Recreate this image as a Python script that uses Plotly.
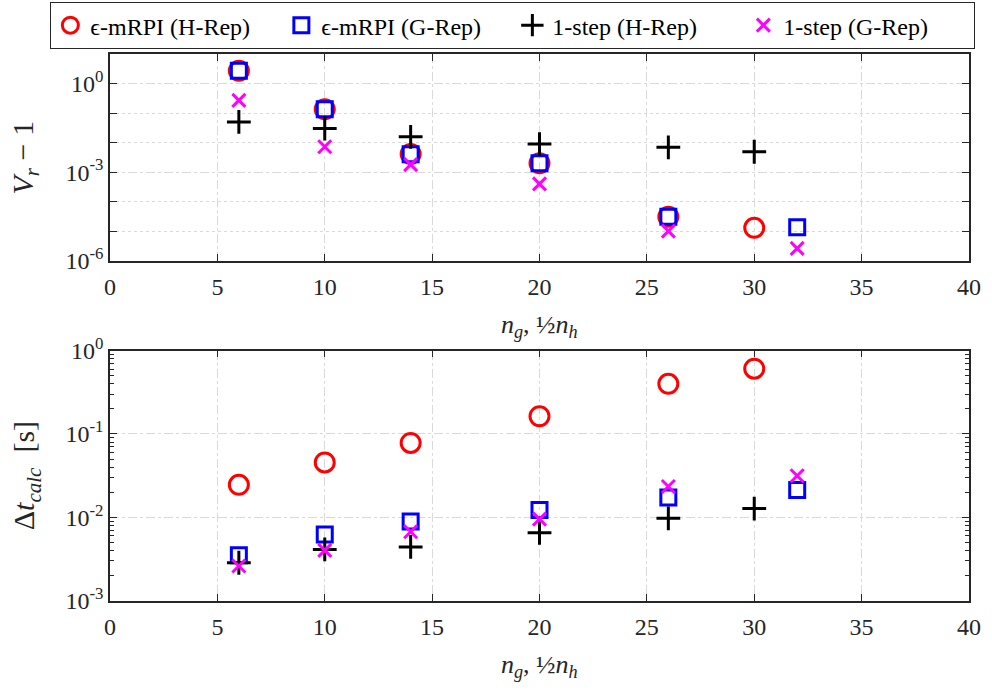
import plotly.graph_objects as go

# ---------------- data ----------------
x_h = [6, 10, 14, 20, 26, 30]          # H-Rep sizes
x_g = [6, 10, 14, 20, 26, 32]          # G-Rep sizes

vr_mrpi_h = [2.7, 0.135, 0.0041, 0.0020, 3.1e-5, 1.3e-5]
vr_mrpi_g = [2.7, 0.135, 0.0040, 0.0020, 3.1e-5, 1.35e-5]
vr_1step_h = [0.050, 0.030, 0.0157, 0.0089, 0.0069, 0.0049]
vr_1step_g = [0.27, 0.0072, 0.0018, 0.0004, 1.0e-5, 2.6e-6]

t_mrpi_h = [0.0245, 0.0455, 0.078, 0.163, 0.40, 0.607]
t_mrpi_g = [0.0035, 0.0062, 0.00886, 0.0122, 0.0172, 0.0213]
t_1step_h = [0.00284, 0.0041, 0.0044, 0.0065, 0.0097, 0.0127]
t_1step_g = [0.0026, 0.0040, 0.0067, 0.0095, 0.0234, 0.0315]

names = ["ϵ-mRPI (H-Rep)", "ϵ-mRPI (G-Rep)", "1-step (H-Rep)", "1-step (G-Rep)"]
x_ticks = [0, 5, 10, 15, 20, 25, 30, 35, 40]
top_major = [1e-6, 1e-3, 1e0]
top_major_text = ["10<sup>-6</sup>", "10<sup>-3</sup>", "10<sup>0</sup>"]
top_minor = [1e-5, 1e-4, 1e-2, 1e-1, 1e1]
bot_major = [1e-3, 1e-2, 1e-1, 1e0]
bot_major_text = ["10<sup>-3</sup>", "10<sup>-2</sup>", "10<sup>-1</sup>", "10<sup>0</sup>"]
bot_minor = [m * d for d in [1e-3, 1e-2, 1e-1] for m in range(2, 10)]

x_title = "<i>n</i><sub><i>g</i></sub>, ½<i>n</i><sub><i>h</i></sub>"
y_title_top = "<i>V</i><sub><i>r</i></sub> − 1"
y_title_bot = "Δ<i>t</i><sub><i>calc</i></sub>  [s]"

FONT = "Liberation Serif, Times New Roman, serif"
AX = "#262626"
GRID = "#d9d9d9"

styles = [
    dict(symbol="circle-open", color="#ff0000", size=19, width=3),
    dict(symbol="square-open", color="#0000ff", size=15, width=3),
    dict(symbol="cross-thin-open", color="#000000", size=17, width=3),
    dict(symbol="x-thin-open", color="#ff00ff", size=13, width=3),
]

fig = go.Figure()
top_sets = [(x_h, vr_mrpi_h), (x_g, vr_mrpi_g), (x_h, vr_1step_h), (x_g, vr_1step_g)]
bot_sets = [(x_h, t_mrpi_h), (x_g, t_mrpi_g), (x_h, t_1step_h), (x_g, t_1step_g)]

for i, ((xs, ys), st) in enumerate(zip(top_sets, styles)):
    fig.add_trace(go.Scatter(
        x=xs, y=ys, mode="markers", name=names[i], legendgroup=names[i],
        marker=dict(symbol=st["symbol"], size=st["size"], color=st["color"],
                    line=dict(color=st["color"], width=st["width"])),
        xaxis="x", yaxis="y", showlegend=True, cliponaxis=False))
for i, ((xs, ys), st) in enumerate(zip(bot_sets, styles)):
    fig.add_trace(go.Scatter(
        x=xs, y=ys, mode="markers", name=names[i], legendgroup=names[i],
        marker=dict(symbol=st["symbol"], size=st["size"], color=st["color"],
                    line=dict(color=st["color"], width=st["width"])),
        xaxis="x2", yaxis="y2", showlegend=False, cliponaxis=False))

xaxis_common = dict(
    range=[0, 40], tickvals=x_ticks, ticks="inside", ticklen=7, tickwidth=1.2,
    tickcolor=AX, showline=True, linecolor=AX, linewidth=1.5, mirror="allticks",
    showgrid=True, gridcolor=GRID, griddash="dashdot", gridwidth=1,
    zeroline=False, automargin=False, ticklabelstandoff=4,
    tickfont=dict(family=FONT, size=24, color="#262626"),
    domain=[0.1109, 0.9768],
)
yaxis_common = dict(
    type="log", automargin=False,
    ticks="inside", ticklen=7, tickcolor=AX, showline=True, linecolor=AX,
    linewidth=1.5, mirror="allticks",
    showgrid=True, gridcolor=GRID, griddash="dashdot",
    tickfont=dict(family=FONT, size=24, color="#262626"),
)

title_font = dict(family=FONT, size=26, color="#262626")
ytitle_font = dict(family=FONT, size=30, color="#262626")

fig.update_layout(
    width=992, height=690,
    margin=dict(l=0, r=0, t=0, b=0),
    paper_bgcolor="white", plot_bgcolor="white",
    font=dict(family=FONT, color="#262626"),
    xaxis=dict(xaxis_common, anchor="y"),
    xaxis2=dict(xaxis_common, anchor="y2"),
    yaxis=dict(
        yaxis_common, range=[-6, 1], domain=[0.6222, 0.9217], anchor="x",
        tickvals=top_major, ticktext=top_major_text,
        minor=dict(tickvals=top_minor, ticks="inside", ticklen=7, tickcolor=AX,
                   showgrid=True, gridcolor=GRID, griddash="dot"),
    ),
    yaxis2=dict(
        yaxis_common, range=[-3, 0], domain=[0.1297, 0.4918], anchor="x2",
        tickvals=bot_major, ticktext=bot_major_text,
        minor=dict(tickvals=bot_minor, ticks="inside", ticklen=4, tickcolor=AX,
                   showgrid=False),
    ),
    legend=dict(
        orientation="h", x=0.517, xanchor="center", y=0.997, yanchor="top",
        bordercolor="#262626", borderwidth=1, bgcolor="white",
        font=dict(family=FONT, size=24, color="#000000"),
        entrywidth=186, entrywidthmode="pixels",
        itemsizing="trace",
    ),
    annotations=[
        dict(text=x_title, xref="paper", yref="paper", x=0.5438, y=0.5275,
             xanchor="center", yanchor="middle", showarrow=False, font=title_font),
        dict(text=x_title, xref="paper", yref="paper", x=0.5438, y=0.0348,
             xanchor="center", yanchor="middle", showarrow=False, font=title_font),
        dict(text=y_title_top, xref="paper", yref="paper", x=0.025, y=0.7715,
             xanchor="center", yanchor="middle", textangle=-90, showarrow=False,
             font=ytitle_font),
        dict(text=y_title_bot, xref="paper", yref="paper", x=0.027, y=0.311,
             xanchor="center", yanchor="middle", textangle=-90, showarrow=False,
             font=ytitle_font),
    ],
)

fig.write_html("out.html")
